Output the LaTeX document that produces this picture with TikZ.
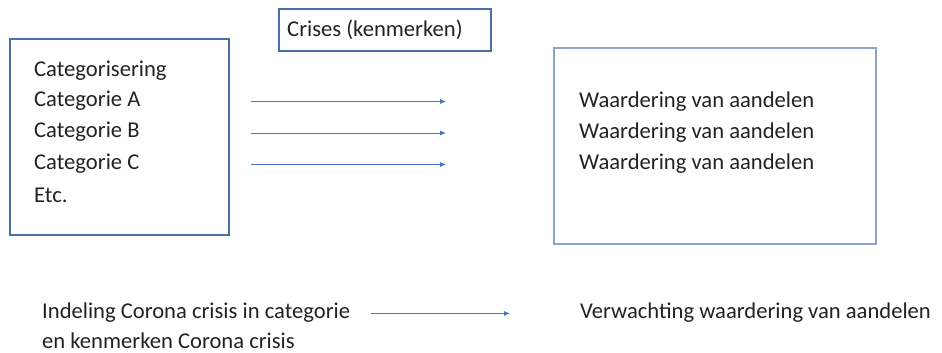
\documentclass[tikz,border=0pt]{standalone}
\usepackage{fontspec}
\setmainfont{Carlito}
\usetikzlibrary{arrows.meta}
\definecolor{boxblue}{HTML}{4A6EA8}
\definecolor{boxlight}{HTML}{8DA2CC}
\definecolor{arrblue}{HTML}{4472C4}
\definecolor{txt}{HTML}{222222}
\begin{document}
\begin{tikzpicture}[x=1pt,y=-1pt,
  frame/.style={draw=boxblue,line width=1.5pt},
  lbl/.style={anchor=west,inner sep=0pt,text=txt,font=\fontsize{22.6}{26}\selectfont},
  conn/.style={draw=arrblue,line width=0.8pt,-{Latex[length=6pt,width=5pt]}}]
\useasboundingbox (0,0) rectangle (942,353);
\draw[frame] (10,39) rectangle (229,235);
\draw[frame] (279,9) rectangle (491,51);
\draw[frame,draw=boxlight] (554,48) rectangle (876,244);
\node[lbl] (crises) at (287,30) {Crises (kenmerken)};
\node[lbl] (cat) at (34,71) {Categorisering};
\node[lbl] (ca) at (34,101) {Categorie A};
\node[lbl] (cb) at (34,132) {Categorie B};
\node[lbl] (cc) at (34,164) {Categorie C};
\node[lbl] (etc) at (34,195) {Etc.};
\node[lbl] (w1) at (579,102) {Waardering van aandelen};
\node[lbl] (w2) at (579,133) {Waardering van aandelen};
\node[lbl] (w3) at (579,164) {Waardering van aandelen};
\coordinate (a1s) at (251,101.5); \coordinate (a1e) at (446,101.5);
\coordinate (a2s) at (251,133); \coordinate (a2e) at (446,133);
\coordinate (a3s) at (251,164.5); \coordinate (a3e) at (446,164.5);
\draw[conn] (a1s) -- (a1e);
\draw[conn] (a2s) -- (a2e);
\draw[conn] (a3s) -- (a3e);
\node[lbl] (ind) at (42,313) {Indeling Corona crisis in categorie};
\node[lbl] (en) at (42,341) {en kenmerken Corona crisis};
\node[lbl] (verw) at (580,313) {Verwachting waardering van aandelen};
\coordinate (b1) at (371,313.5); \coordinate (b2) at (510,313.5);
\draw[conn] (b1) -- (b2);
\end{tikzpicture}
\end{document}
